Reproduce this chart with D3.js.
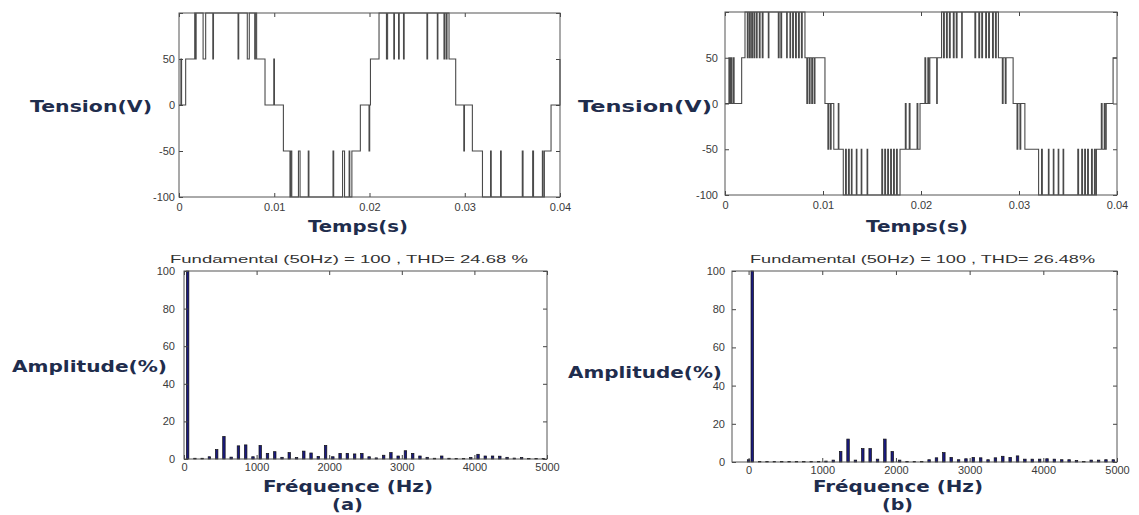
<!DOCTYPE html>
<html>
<head>
<meta charset="utf-8">
<script src="https://cdn.jsdelivr.net/npm/d3@7"></script>
<style>
body { margin: 0; background: #fff; }
svg { display: block; }
</style>
</head>
<body>
<div id="wrapper"></div>
<script>
// tension onduleur (a) : [temps ms, niveau V], palier tenu jusqu'au point suivant
var waveA = [
  [0,0],[0.2,50],[0.27,0],[0.7,50],[1.65,100],[1.72,50],[1.8,100],[2.53,50],[2.8,100],[3.55,50],[3.62,100],
  [6.2,50],[6.27,100],[7.17,50],[7.38,100],[7.95,50],[8.02,100],[8.15,50],[9.03,0],[9.95,50],[10.02,0],
  [10.96,-50],[11.65,-100],[11.72,-50],[11.84,-100],[12.54,-50],[12.71,-100],[13.57,-50],[13.64,-100],
  [16.17,-50],[16.24,-100],[17.17,-50],[17.38,-100],[17.86,-50],[17.93,-100],[18.15,-50],[19.04,0],
  [19.95,-50],[20.02,0],[20.1,50],[21.0,100],[21.78,50],[21.9,100],[22.55,50],[22.62,100],[23.05,50],
  [23.12,100],[23.57,50],[23.64,100],[26.03,50],[26.1,100],[27.12,50],[27.18,100],[27.82,50],[27.9,100],
  [28.06,50],[28.14,100],[28.35,50],[29.05,0],[29.9,-50],[29.97,0],[30.8,-50],[31.86,-100],[32.71,-50],
  [32.78,-100],[33.76,-50],[33.83,-100],[36.04,-50],[36.12,-100],[37.13,-50],[37.22,-100],[38.15,-50],
  [38.22,-100],[38.36,-50],[39.06,0],[40,50]
];

// tension onduleur (b)
var waveB = [
  [0,0],[0.4,50],[0.5,0],[0.6,50],[0.7,0],[0.85,50],[0.93,0],[1.7,50],
  [2.04,100],[2.28,50],[2.36,100],[2.5,50],[2.58,100],[2.72,50],[2.8,100],[2.95,50],[3.03,100],[3.2,50],
  [3.28,100],[3.5,50],[3.58,100],[3.8,50],[3.88,100],[4.42,50],[4.48,100],[5.44,50],[5.52,100],[5.7,50],
  [5.78,100],[6.29,50],[6.35,100],[6.63,50],[6.69,100],[6.9,50],[6.98,100],[7.2,50],[7.28,100],[7.5,50],
  [7.58,100],[7.8,50],[7.88,100],
  [8.16,50],[8.35,0],[8.43,50],[8.6,0],[8.68,50],[8.85,0],[8.93,50],[9.1,0],[9.18,50],[10.2,0],
  [10.5,-50],[10.58,0],[10.75,-50],[10.83,0],[11.1,-50],[11.56,0],[11.62,-50],
  [12.07,-100],[12.3,-50],[12.38,-100],[12.6,-50],[12.68,-100],[12.9,-50],[12.96,-100],[13.4,-50],
  [13.46,-100],[13.9,-50],[13.96,-100],[14.5,-50],[14.56,-100],[16.0,-50],[16.08,-100],[16.3,-50],
  [16.38,-100],[16.6,-50],[16.68,-100],[16.9,-50],[16.98,-100],[17.2,-50],[17.28,-100],[17.5,-50],
  [17.58,-100],
  [17.86,-50],[18.4,0],[18.48,-50],[18.8,0],[18.88,-50],[19.6,0],[19.68,-50],[19.9,0],
  [20.4,50],[20.48,0],[20.7,50],[20.78,0],[20.9,50],[21.6,0],[21.66,50],
  [22.1,100],[22.3,50],[22.38,100],[22.6,50],[22.68,100],[22.9,50],[22.98,100],[23.3,50],[23.38,100],
  [23.6,50],[23.68,100],[24.15,50],[24.21,100],[25.5,50],[25.58,100],[25.9,50],[25.98,100],[26.2,50],
  [26.28,100],[26.6,50],[26.68,100],[26.9,50],[26.98,100],[27.3,50],[27.38,100],[27.6,50],[27.68,100],
  [27.9,50],[28.3,0],[28.38,50],[28.6,0],[28.68,50],[29.4,0],
  [29.8,-50],[29.88,0],[30.1,-50],[30.18,0],[30.6,-50],
  [32.0,-100],[32.3,-50],[32.38,-100],[33.0,-50],[33.06,-100],[33.5,-50],[33.56,-100],[34.0,-50],
  [34.06,-100],[34.5,-50],[34.56,-100],[36.0,-50],[36.08,-100],[36.4,-50],[36.48,-100],[36.7,-50],
  [36.78,-100],[37.0,-50],[37.08,-100],[37.4,-50],[37.48,-100],[37.7,-50],[37.78,-100],
  [37.9,-50],[38.4,0],[38.48,-50],[38.7,0],[38.78,-50],[38.9,0],[39.6,50],[40,50]
];

// spectre : frequences des harmoniques (Hz) et amplitudes (% du fondamental)
var harmonicHz = [0,50,150,250,350,450,550,650,750,850,950,1050,1150,1250,1350,1450,1550,1650,1750,1850,
  1950,2050,2150,2250,2350,2450,2550,2650,2750,2850,2950,3050,3150,3250,3350,3450,3550,3650,3750,3850,
  3950,4050,4150,4250,4350,4450,4550,4650,4750,4850,4950];
var ampA = [0,100,0.4,0.4,1.2,5,12,1,7,7.5,1.2,7.2,3,3.9,0.9,3.4,0.8,4.2,3.2,1.4,
  7.2,1.2,3,3,2.7,3,1.2,0.6,2,3.4,1.6,4.4,3,1.6,0.9,0.4,1.6,0.4,0.3,0.3,
  0.8,2.5,1.6,1.6,1.5,0.9,0.5,0.8,0.3,0.3,0.3];
var ampB = [1.2,100,0.3,0.3,0.3,0.3,0.3,0.3,0.3,0.3,0.3,0.5,1,5.5,12,1,7,7,1.5,12,
  5.5,1,0.3,0.3,0.3,1.2,2.2,4.9,2.4,1.2,1.7,2.4,2.2,1.2,2.2,3,2.4,3.2,1.5,1.5,
  1.5,1.7,1.5,1.2,1.2,0.8,0.3,1,1,1.2,1.2];

// graduations
var tempsTicks = [0, 10, 20, 30, 40];
var tempsLabels = ['0', '0.01', '0.02', '0.03', '0.04'];
var tensionTicks = [-100, -50, 0, 50, 100];
var tensionLabels = ['-100', '-50', '0', '50', ''];
var freqTicks = [0, 1000, 2000, 3000, 4000, 5000];
var freqLabels = ['0', '1000', '2000', '3000', '4000', '5000'];
var ampTicks = [0, 20, 40, 60, 80, 100];
var ampLabels = ['0', '20', '40', '60', '80', '100'];

var titleA = 'Fundamental (50Hz) = 100 , THD= 24.68 %';
var titleB = 'Fundamental (50Hz) = 100 , THD= 26.48%';

var svg = d3.select('#wrapper').append('svg')
  .attr('width', 1139).attr('height', 515);

// cadre + graduations vers l'interieur (style matlab)
function axes(x, y, b, xt, xl, yt, yl, padX, padY) {
  var g = svg.append('g');
  g.append('g').attr('transform', 'translate(0,' + b.y1 + ')')
    .call(d3.axisBottom(x).tickValues(xt).tickFormat(function (d, i) { return xl[i]; }).tickSize(-4).tickPadding(padX));
  g.append('g').attr('transform', 'translate(0,' + b.y0 + ')')
    .call(d3.axisTop(x).tickValues(xt).tickFormat('').tickSize(-4));
  g.append('g').attr('transform', 'translate(' + b.x0 + ',0)')
    .call(d3.axisLeft(y).tickValues(yt).tickFormat(function (d, i) { return yl[i]; }).tickSize(-4).tickPadding(padY));
  g.append('g').attr('transform', 'translate(' + b.x1 + ',0)')
    .call(d3.axisRight(y).tickValues(yt).tickFormat('').tickSize(-4));
  g.selectAll('.domain').remove();
  g.selectAll('.tick line').attr('stroke', '#444');
  g.selectAll('text')
    .attr('font-family', 'Liberation Sans, Arial, sans-serif')
    .attr('font-size', 11)
    .attr('fill', '#3a3a3a');
  g.append('rect')
    .attr('x', b.x0).attr('y', b.y0)
    .attr('width', b.x1 - b.x0).attr('height', b.y1 - b.y0)
    .attr('fill', 'none').attr('stroke', '#555').attr('stroke-width', 1);
}

function drawWave(b, data) {
  var x = d3.scaleLinear().domain([0, 40]).range([b.x0, b.x1]);
  var y = d3.scaleLinear().domain([-100, 100]).range([b.y1, b.y0]);
  var line = d3.line()
    .x(function (d) { return x(d[0]); })
    .y(function (d) { return y(d[1]); })
    .curve(d3.curveStepAfter);
  svg.append('path').datum(data)
    .attr('d', line)
    .attr('fill', 'none')
    .attr('stroke', '#4a4a4a')
    .attr('stroke-width', 1.1);
  axes(x, y, b, tempsTicks, tempsLabels, tensionTicks, tensionLabels, 6, b.padY);
}

function drawSpec(b, dom, amps, title) {
  var x = d3.scaleLinear().domain(dom).range([b.x0, b.x1]);
  var y = d3.scaleLinear().domain([0, 100]).range([b.y1, b.y0]);
  var bw = x(34) - x(0);
  var pts = harmonicHz.map(function (f, i) { return { f: f, a: amps[i] }; })
    .filter(function (d) { return d.a > 0; });
  svg.append('g').selectAll('rect')
    .data(pts).enter().append('rect')
    .attr('x', function (d) { return x(d.f) - bw / 2; })
    .attr('y', function (d) { return y(d.a); })
    .attr('width', bw)
    .attr('height', function (d) { return y(0) - y(d.a); })
    .attr('fill', '#1a1a80')
    .attr('stroke', '#111')
    .attr('stroke-width', 0.7);
  axes(x, y, b, freqTicks, freqLabels, ampTicks, ampLabels, 4, b.padY);
  svg.append('text')
    .attr('x', b.tx0).attr('y', 263)
    .text(title)
    .attr('font-family', 'Liberation Sans, Arial, sans-serif')
    .attr('font-size', 10.5)
    .attr('fill', '#333')
    .attr('textLength', b.tx1 - b.tx0)
    .attr('lengthAdjust', 'spacingAndGlyphs');
}

// titres d'axes en gras, etires comme sur la figure
function label(txt, x0, x1, base) {
  svg.append('text')
    .attr('x', x0).attr('y', base)
    .text(txt)
    .attr('font-family', 'DejaVu Sans, Verdana, sans-serif')
    .attr('font-weight', 'bold')
    .attr('font-size', 15)
    .attr('fill', '#1f2d4d')
    .attr('textLength', x1 - x0)
    .attr('lengthAdjust', 'spacingAndGlyphs');
}

drawWave({ x0: 179, x1: 560, y0: 13, y1: 197, padY: 4 }, waveA);
drawWave({ x0: 725, x1: 1117, y0: 12, y1: 195, padY: 7 }, waveB);
drawSpec({ x0: 184, x1: 547, y0: 271, y1: 459, padY: 9, tx0: 170, tx1: 528 }, [0, 5000], ampA, titleA);
drawSpec({ x0: 732, x1: 1117, y0: 271, y1: 462, padY: 7, tx0: 750, tx1: 1095 }, [-225, 5000], ampB, titleB);

label('Tension(V)', 30, 152, 112);
label('Tension(V)', 578, 712, 112);
label('Temps(s)', 308, 408, 232);
label('Temps(s)', 866, 968, 232);
label('Amplitude(%)', 12, 167, 372);
label('Amplitude(%)', 568, 722, 378);
label('Fréquence (Hz)', 263, 433, 492);
label('Fréquence (Hz)', 813, 983, 492);
label('(a)', 332, 363, 510);
label('(b)', 882, 913, 510);
</script>
</body>
</html>
